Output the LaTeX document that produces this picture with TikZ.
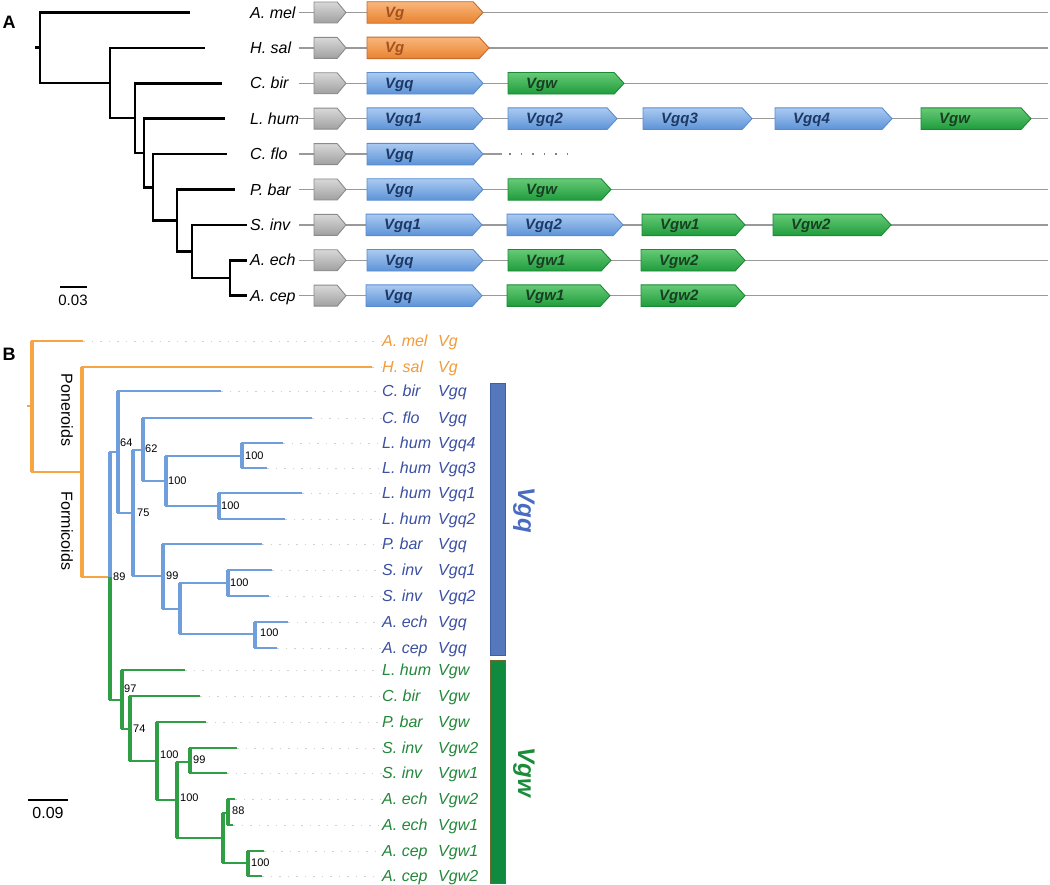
\documentclass[tikz,border=0pt]{standalone}
\usepackage{fontspec}
\setmainfont{Liberation Sans}
\usetikzlibrary{shapes.symbols}

\definecolor{Torng}{HTML}{F9B67C}
\definecolor{Borng}{HTML}{E8832F}
\definecolor{Dorng}{HTML}{C66A2E}
\definecolor{Xorng}{HTML}{A4521F}
\definecolor{Tblue}{HTML}{AACAF1}
\definecolor{Bblue}{HTML}{5D93D7}
\definecolor{Dblue}{HTML}{5A8CCF}
\definecolor{Xblue}{HTML}{1C3966}
\definecolor{Tgren}{HTML}{66CA76}
\definecolor{Bgren}{HTML}{1F9C3C}
\definecolor{Dgren}{HTML}{1A8A36}
\definecolor{Xgren}{HTML}{173F22}
\definecolor{Tgray}{HTML}{D8D8D8}
\definecolor{Bgray}{HTML}{A0A0A0}
\definecolor{Dgray}{HTML}{8A8A8A}
\definecolor{treeO}{HTML}{F7A443}
\definecolor{treeB}{HTML}{6E9FDC}
\definecolor{treeG}{HTML}{2F9E44}
\definecolor{labO}{HTML}{F39B3A}
\definecolor{labB}{HTML}{3B50A3}
\definecolor{labG}{HTML}{22883A}
\definecolor{barQfill}{HTML}{5577BB}
\definecolor{barQline}{HTML}{3D5FAA}
\definecolor{barWfill}{HTML}{0F8A3F}
\definecolor{barWline}{HTML}{6E6A2E}
\definecolor{famQ}{HTML}{4A6CC0}
\definecolor{famW}{HTML}{1A8C3A}

\begin{document}
\begin{tikzpicture}[x=1pt,y=-1pt,
    treeA/.style={line width=2.6pt,black},
    chrom/.style={draw=black!40,line width=1.3pt},
    gene/.style={signal,signal to=east,signal pointer angle=95,minimum height=21.5pt,
      inner sep=0pt,outer sep=0pt,line width=0.9pt,anchor=west},
    genetxt/.style={anchor=base west,inner sep=0pt,font=\fontsize{15}{17}\selectfont\bfseries\itshape},
    spA/.style={anchor=base west,inner sep=0pt,font=\fontsize{16}{18}\selectfont\itshape},
    spB/.style={anchor=base west,inner sep=0pt,font=\fontsize{16}{18}\selectfont\itshape},
    brO/.style={draw=treeO,line width=2pt},
    brB/.style={draw=treeB,line width=2pt},
    brG/.style={draw=treeG,line width=2pt},
    tipline/.style={draw=black!18,line width=0.8pt,dash pattern=on 1.5pt off 7pt},
    boot/.style={anchor=west,inner sep=0pt,font=\fontsize{11}{13}\selectfont},
    panel/.style={inner sep=0pt,font=\fontsize{18}{20}\selectfont\bfseries}
  ]
  \useasboundingbox[fill=white] (0,0) rectangle (1050,885);

  %% ---------- A ----------
  \node[panel] (pA) at (9,22) {A};

  % species tree
  \coordinate (a0) at (35,47.8);
  \coordinate (a1) at (40,47.8);
  \coordinate (a2) at (110,83);
  \coordinate (a3) at (135,118.2);
  \coordinate (a4) at (144,153);
  \coordinate (a5) at (153,187.3);
  \coordinate (a6) at (177,220.5);
  \coordinate (a7) at (192,251.5);
  \coordinate (a8) at (230,278);

  \foreach \i/\sp/\tx in {0/A. mel/190,1/H. sal/205,2/C. bir/222,3/L. hum/225,4/C. flo/227,
      5/P. bar/235,6/S. inv/247,7/A. ech/247,8/A. cep/247}{
    \pgfmathsetmacro\y{12.5+35.4*\i}
    \coordinate (ta\i) at (\tx,\y);
    \node[spA] (la\i) at (250,\y+5.6) {\sp};
  }

  \draw[treeA] (a0) -- (a1);
  \draw[treeA] (a1) |- (ta0) (a1) |- (a2);
  \draw[treeA] (a2) |- (ta1) (a2) |- (a3);
  \draw[treeA] (a3) |- (ta2) (a3) |- (a4);
  \draw[treeA] (a4) |- (ta3) (a4) |- (a5);
  \draw[treeA] (a5) |- (ta4) (a5) |- (a6);
  \draw[treeA] (a6) |- (ta5) (a6) |- (a7);
  \draw[treeA] (a7) |- (ta6) (a7) |- (a8);
  \draw[treeA] (a8) |- (ta7) (a8) |- (ta8);

  % scale
  \coordinate (sa1) at (60,287);
  \coordinate (sa2) at (87,287);
  \draw[line width=2.4pt] (sa1) -- (sa2);
  \node[inner sep=0pt,font=\fontsize{15}{17}\selectfont] (sa) at (73,300) {0.03};

  % chromosome lines
  \foreach \i in {0,1,2,3,5,6,7,8}{
    \pgfmathsetmacro\y{12.5+35.4*\i}
    \draw[chrom] (299,\y) -- (1048,\y);
  }
  \draw[chrom] (299,154.1) -- (502,154.1);
  \draw[draw=black!50,line width=1.2pt,dash pattern=on 1.5pt off 10pt] (509,154.1) -- (567,154.1);

  % promoter boxes
  \foreach \i in {0,...,8}{
    \pgfmathsetmacro\y{12.5+35.4*\i}
    \node[gene,minimum width=32pt,signal pointer angle=100,minimum height=21pt,
      top color=Tgray,bottom color=Bgray,draw=Dgray] (pr\i) at (314,\y) {};
  }

  % genes
  \foreach \i/\xa/\xb/\c/\g [count=\k] in {
      0/367/483/orng/Vg, 1/367/489/orng/Vg,
      2/367/483/blue/Vgq, 2/508/624/gren/Vgw,
      3/367/483/blue/Vgq1, 3/508/617/blue/Vgq2, 3/643/752/blue/Vgq3, 3/775/892/blue/Vgq4, 3/921/1031/gren/Vgw,
      4/367/483/blue/Vgq,
      5/367/483/blue/Vgq, 5/508/611/gren/Vgw,
      6/366/482/blue/Vgq1, 6/507/623/blue/Vgq2, 6/642/745/gren/Vgw1, 6/773/891/gren/Vgw2,
      7/367/483/blue/Vgq, 7/508/611/gren/Vgw1, 7/641/745/gren/Vgw2,
      8/366/482/blue/Vgq, 8/507/610/gren/Vgw1, 8/641/745/gren/Vgw2}{
    \pgfmathsetmacro\y{12.5+35.4*\i}
    \pgfmathsetmacro\w{\xb-\xa}
    \node[gene,minimum width=\w pt,top color=T\c,bottom color=B\c,draw=D\c] (g\k) at (\xa,\y) {};
    \node[genetxt,text=X\c] (gt\k) at ([xshift=18pt,yshift=-5pt]g\k.west) {\g};
  }

  %% ---------- B ----------
  \node[panel] (pB) at (9,354) {B};

  % gene tree nodes
  \coordinate (R0) at (27,406);
  \coordinate (R) at (32,406);
  \coordinate (P) at (82,472);
  \coordinate (n89) at (110,577);
  \coordinate (n64) at (118,452);
  \coordinate (n75) at (133,513);
  \coordinate (n62) at (143,450);
  \coordinate (n100a) at (166,481);
  \coordinate (n100b) at (242,456);
  \coordinate (n100c) at (219,506);
  \coordinate (n99) at (163,576);
  \coordinate (nx) at (180,609);
  \coordinate (n100d) at (228,583);
  \coordinate (n100e) at (255,634);
  \coordinate (n97) at (122,700);
  \coordinate (n74) at (130,729);
  \coordinate (n100f) at (157,761);
  \coordinate (n100g) at (177,800);
  \coordinate (n99g) at (190,762);
  \coordinate (ny) at (223,838);
  \coordinate (n88) at (228,813);
  \coordinate (n100h) at (248,863);

  % tips and labels
  \foreach \t/\x/\y/\sp/\g/\c in {
      tAmel/83/341/A. mel/Vg/labO, tHsal/372/367/H. sal/Vg/labO,
      tCbQ/221/391/C. bir/Vgq/labB, tCfQ/312/418/C. flo/Vgq/labB,
      tLhQ4/283/443/L. hum/Vgq4/labB, tLhQ3/267/468/L. hum/Vgq3/labB,
      tLhQ1/302/493/L. hum/Vgq1/labB, tLhQ2/285/519/L. hum/Vgq2/labB,
      tPbQ/262/544/P. bar/Vgq/labB, tSiQ1/272/570/S. inv/Vgq1/labB,
      tSiQ2/269/596/S. inv/Vgq2/labB, tAeQ/288/622/A. ech/Vgq/labB,
      tAcQ/277/648/A. cep/Vgq/labB,
      tLhW/185/670/L. hum/Vgw/labG, tCbW/200/696/C. bir/Vgw/labG,
      tPbW/206/722/P. bar/Vgw/labG, tSiW2/237/748/S. inv/Vgw2/labG,
      tSiW1/227/773/S. inv/Vgw1/labG, tAeW2/235/799/A. ech/Vgw2/labG,
      tAeW1/233/825/A. ech/Vgw1/labG, tAcW1/264/851/A. cep/Vgw1/labG,
      tAcW2/262/876/A. cep/Vgw2/labG}{
    \coordinate (\t) at (\x,\y);
    \node[spB,text=\c] (l\t) at (382,\y+5.6) {\makebox[56pt][l]{\sp}\g};
    \draw[tipline] (\t) -- (\t -| l\t.west);
  }

  % branches
  \draw[brO] (R0) -- (R);
  \draw[brO] (R) |- (tAmel) (R) |- (P);
  \draw[brO] (P) |- (tHsal) (P) |- (n89);

  \draw[brB] (n89) |- (n64);
  \draw[brB] (n64) |- (tCbQ) (n64) |- (n75);
  \draw[brB] (n75) |- (n62) (n75) |- (n99);
  \draw[brB] (n62) |- (tCfQ) (n62) |- (n100a);
  \draw[brB] (n100a) |- (n100b) (n100a) |- (n100c);
  \draw[brB] (n100b) |- (tLhQ4) (n100b) |- (tLhQ3);
  \draw[brB] (n100c) |- (tLhQ1) (n100c) |- (tLhQ2);
  \draw[brB] (n99) |- (tPbQ) (n99) |- (nx);
  \draw[brB] (nx) |- (n100d) (nx) |- (n100e);
  \draw[brB] (n100d) |- (tSiQ1) (n100d) |- (tSiQ2);
  \draw[brB] (n100e) |- (tAeQ) (n100e) |- (tAcQ);

  \draw[brG] (n89) |- (n97);
  \draw[brG] (n97) |- (tLhW) (n97) |- (n74);
  \draw[brG] (n74) |- (tCbW) (n74) |- (n100f);
  \draw[brG] (n100f) |- (tPbW) (n100f) |- (n100g);
  \draw[brG] (n100g) |- (n99g) (n100g) |- (ny);
  \draw[brG] (n99g) |- (tSiW2) (n99g) |- (tSiW1);
  \draw[brG] (ny) |- (n88) (ny) |- (n100h);
  \draw[brG] (n88) |- (tAeW2) (n88) |- (tAeW1);
  \draw[brG] (n100h) |- (tAcW1) (n100h) |- (tAcW2);

  % heavier stems
  \foreach \n/\a/\b/\s in {R/tAmel/P/brO, P/tHsal/n89/brO, n89/n64/n89/brB, n89/n89/n97/brG,
      n64/tCbQ/n75/brB, n75/n62/n99/brB, n62/tCfQ/n100a/brB, n100a/n100b/n100c/brB,
      n100b/tLhQ4/tLhQ3/brB, n100c/tLhQ1/tLhQ2/brB, n99/tPbQ/nx/brB, nx/n100d/n100e/brB,
      n100d/tSiQ1/tSiQ2/brB, n100e/tAeQ/tAcQ/brB,
      n97/tLhW/n74/brG, n74/tCbW/n100f/brG, n100f/tPbW/n100g/brG, n100g/n99g/ny/brG,
      n99g/tSiW2/tSiW1/brG, ny/n88/n100h/brG, n88/tAeW2/tAeW1/brG, n100h/tAcW1/tAcW2/brG}
    \draw[\s,line width=3.2pt] (\n |- \a) -- (\n |- \b);

  % support values
  \foreach \x/\y/\v [count=\k] in {120/443/64, 145/449/62, 137/513/75, 168/481/100,
      245/456/100, 221/506/100, 113/577/89, 166/576/99, 230/583/100, 260/633/100,
      124/689/97, 133/729/74, 160/755/100, 180/798/100, 193/760/99, 232/811/88, 251/863/100}
    \node[boot] (bs\k) at (\x,\y) {\v};

  % clade names
  \node[rotate=-90,inner sep=0pt,font=\fontsize{16}{18}\selectfont] (poner) at (67,410) {Poneroids};
  \node[rotate=-90,inner sep=0pt,font=\fontsize{16}{18}\selectfont] (formi) at (67,531) {Formicoids};

  % gene family bars
  \node[draw=barQline,fill=barQfill,line width=1pt,minimum width=15pt,minimum height=272pt,
    inner sep=0pt,anchor=north west] (barq) at (490,383) {};
  \node[draw=barWline,fill=barWfill,line width=1pt,minimum width=15pt,minimum height=223pt,
    inner sep=0pt,anchor=north west] (barw) at (490,660) {};
  \node[rotate=-90,inner sep=0pt,text=famQ,font=\fontsize{24}{26}\selectfont\bfseries\itshape] (vgq) at (524,510) {Vgq};
  \node[rotate=-90,inner sep=0pt,text=famW,font=\fontsize{24}{26}\selectfont\bfseries\itshape] (vgw) at (524,772) {Vgw};

  % scale
  \coordinate (sb1) at (28,800);
  \coordinate (sb2) at (68,800);
  \draw[line width=1.4pt] (sb1) -- (sb2);
  \node[inner sep=0pt,font=\fontsize{16}{18}\selectfont] (sb) at (48,813) {0.09};
\end{tikzpicture}
\end{document}
